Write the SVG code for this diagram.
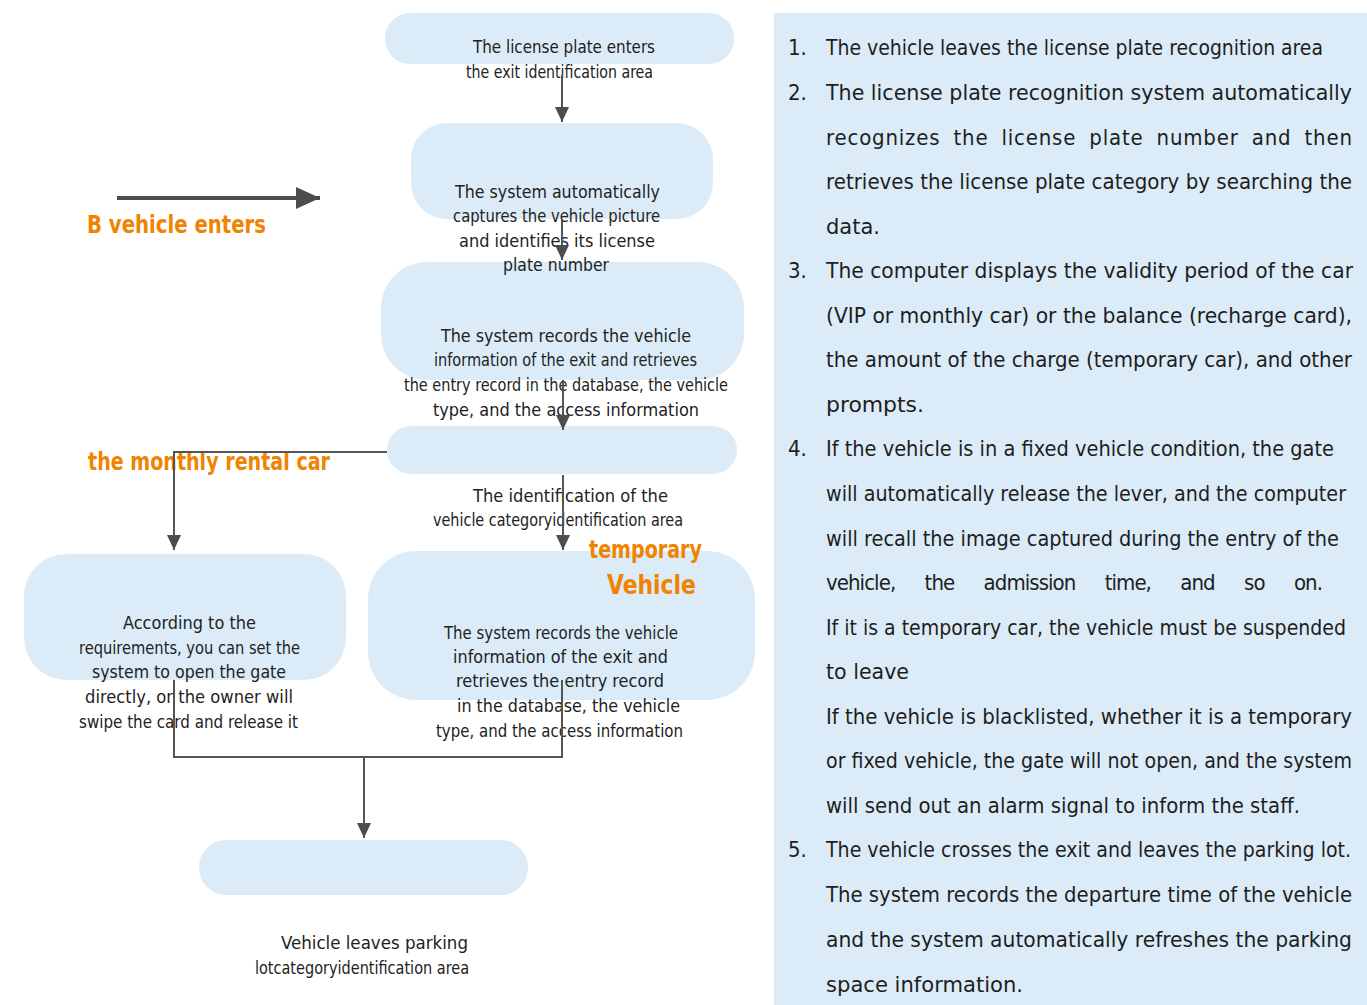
<svg xmlns="http://www.w3.org/2000/svg" width="1367" height="1005" viewBox="0 0 1367 1005">
<style>
.node{fill:#dbecf8}
.t{font-family:"DejaVu Sans Condensed","DejaVu Sans",sans-serif;font-size:18px;fill:#222}
.o{font-family:"DejaVu Sans Condensed","DejaVu Sans",sans-serif;font-size:24px;font-weight:bold;fill:#f08300}
.p{font-family:"DejaVu Sans Condensed","DejaVu Sans",sans-serif;font-size:22px;fill:#1e1e1e}
.ps{font-size:21px}
.c{fill:none;stroke:#555;stroke-width:2}
.big{fill:none;stroke:#4d4d4d;stroke-width:4}
</style>
<defs>
<marker id="ah" markerUnits="userSpaceOnUse" markerWidth="15" markerHeight="14" refX="15" refY="7" orient="auto"><path d="M0,0 L15,7 L0,14 z" fill="#4d4d4d"/></marker>
<marker id="ahb" markerUnits="userSpaceOnUse" markerWidth="24" markerHeight="22" refX="24" refY="11" orient="auto"><path d="M0,0 L24,11 L0,22 z" fill="#4d4d4d"/></marker>
</defs>
<rect width="1367" height="1005" fill="#fff"/>
<g id="panel">
<rect x="774" y="13" width="593" height="992" fill="#dbecf8"/>
<text class="p" x="788" y="55">1.</text>
<text class="p" x="826" y="55" textLength="497" lengthAdjust="spacingAndGlyphs">The vehicle leaves the license plate recognition area</text>
<text class="p" x="788" y="100">2.</text>
<text class="p" x="826" y="100" textLength="526" lengthAdjust="spacingAndGlyphs">The license plate recognition system automatically</text>
<text class="p" x="826" y="145" textLength="526" lengthAdjust="spacing" style="word-spacing:6px">recognizes the license plate number and then</text>
<text class="p" x="826" y="189" textLength="526" lengthAdjust="spacingAndGlyphs">retrieves the license plate category by searching the</text>
<text class="p" x="826" y="234" textLength="54" lengthAdjust="spacingAndGlyphs">data.</text>
<text class="p" x="788" y="278">3.</text>
<text class="p" x="826" y="278" textLength="527" lengthAdjust="spacingAndGlyphs">The computer displays the validity period of the car</text>
<text class="p" x="826" y="323" textLength="526" lengthAdjust="spacingAndGlyphs">(VIP or monthly car) or the balance (recharge card),</text>
<text class="p" x="826" y="367" textLength="526" lengthAdjust="spacingAndGlyphs">the amount of the charge (temporary car), and other</text>
<text class="p" x="826" y="412" textLength="98" lengthAdjust="spacingAndGlyphs">prompts.</text>
<text class="p" x="788" y="456">4.</text>
<text class="p" x="826" y="456" textLength="508" lengthAdjust="spacingAndGlyphs">If the vehicle is in a fixed vehicle condition, the gate</text>
<text class="p" x="826" y="501" textLength="520" lengthAdjust="spacingAndGlyphs">will automatically release the lever, and the computer</text>
<text class="p" x="826" y="546" textLength="513" lengthAdjust="spacingAndGlyphs">will recall the image captured during the entry of the</text>
<text class="p" x="826" y="590" textLength="497" lengthAdjust="spacing" style="word-spacing:24px">vehicle, the admission time, and so on.</text>
<text class="p" x="826" y="635" textLength="520" lengthAdjust="spacingAndGlyphs">If it is a temporary car, the vehicle must be suspended</text>
<text class="p" x="826" y="679" textLength="83" lengthAdjust="spacingAndGlyphs">to leave</text>
<text class="p" x="826" y="724" textLength="526" lengthAdjust="spacingAndGlyphs">If the vehicle is blacklisted, whether it is a temporary</text>
<text class="p ps" x="826" y="768" textLength="526" lengthAdjust="spacingAndGlyphs">or fixed vehicle, the gate will not open, and the system</text>
<text class="p" x="826" y="813" textLength="474" lengthAdjust="spacingAndGlyphs">will send out an alarm signal to inform the staff.</text>
<text class="p" x="788" y="857">5.</text>
<text class="p ps" x="826" y="857" textLength="525" lengthAdjust="spacingAndGlyphs">The vehicle crosses the exit and leaves the parking lot.</text>
<text class="p" x="826" y="902" textLength="526" lengthAdjust="spacingAndGlyphs">The system records the departure time of the vehicle</text>
<text class="p" x="826" y="947" textLength="526" lengthAdjust="spacingAndGlyphs">and the system automatically refreshes the parking</text>
<text class="p" x="826" y="992" textLength="197" lengthAdjust="spacingAndGlyphs">space information.</text>
</g>
<g id="n7">
<rect class="node" x="199" y="840" width="329" height="55" rx="27"/>
<text class="t" x="281" y="949" textLength="187" lengthAdjust="spacingAndGlyphs">Vehicle leaves parking</text>
<text class="t" x="255" y="974" textLength="214" lengthAdjust="spacingAndGlyphs">lotcategoryidentification area</text>
</g>
<g id="n6">
<rect class="node" x="368" y="551" width="387" height="149" rx="48"/>
<text class="t" x="444" y="639" textLength="234" lengthAdjust="spacingAndGlyphs">The system records the vehicle</text>
<text class="t" x="453" y="663" textLength="215" lengthAdjust="spacingAndGlyphs">information of the exit and</text>
<text class="t" x="456" y="687" textLength="208" lengthAdjust="spacingAndGlyphs">retrieves the entry record</text>
<text class="t" x="457" y="712" textLength="223" lengthAdjust="spacingAndGlyphs">in the database, the vehicle</text>
<text class="t" x="436" y="737" textLength="247" lengthAdjust="spacingAndGlyphs">type, and the access information</text>
</g>
<g id="n5">
<rect class="node" x="24" y="554" width="322" height="126" rx="42"/>
<text class="t" x="123" y="629" textLength="133" lengthAdjust="spacingAndGlyphs">According to the</text>
<text class="t" x="79" y="654" textLength="221" lengthAdjust="spacingAndGlyphs">requirements, you can set the</text>
<text class="t" x="92" y="678" textLength="194" lengthAdjust="spacingAndGlyphs">system to open the gate</text>
<text class="t" x="85" y="703" textLength="208" lengthAdjust="spacingAndGlyphs">directly, or the owner will</text>
<text class="t" x="79" y="728" textLength="219" lengthAdjust="spacingAndGlyphs">swipe the card and release it</text>
</g>
<g id="n4">
<rect class="node" x="387" y="426" width="350" height="48" rx="24"/>
<text class="t" x="473" y="502" textLength="195" lengthAdjust="spacingAndGlyphs">The identification of the</text>
<text class="t" x="433" y="526" textLength="250" lengthAdjust="spacingAndGlyphs">vehicle categoryidentification area</text>
</g>
<g id="n3">
<rect class="node" x="381" y="262" width="363" height="118" rx="46"/>
<text class="t" x="441" y="342" textLength="250" lengthAdjust="spacingAndGlyphs">The system records the vehicle</text>
<text class="t" x="434" y="366" textLength="263" lengthAdjust="spacingAndGlyphs">information of the exit and retrieves</text>
<text class="t" x="404" y="391" textLength="324" lengthAdjust="spacingAndGlyphs">the entry record in the database, the vehicle</text>
<text class="t" x="433" y="416" textLength="266" lengthAdjust="spacingAndGlyphs">type, and the access information</text>
</g>
<g id="n2">
<rect class="node" x="411" y="123" width="302" height="96" rx="36"/>
<text class="t" x="455" y="198" textLength="205" lengthAdjust="spacingAndGlyphs">The system automatically</text>
<text class="t" x="453" y="222" textLength="207" lengthAdjust="spacingAndGlyphs">captures the vehicle picture</text>
<text class="t" x="459" y="247" textLength="196" lengthAdjust="spacingAndGlyphs">and identifies its license</text>
<text class="t" x="503" y="271" textLength="106" lengthAdjust="spacingAndGlyphs">plate number</text>
</g>
<g id="n1">
<rect class="node" x="385" y="13" width="349" height="51" rx="25"/>
<text class="t" x="473" y="53" textLength="182" lengthAdjust="spacingAndGlyphs">The license plate enters</text>
<text class="t" x="466" y="78" textLength="187" lengthAdjust="spacingAndGlyphs">the exit identification area</text>
</g>
<g id="labels">
<text class="o" x="87" y="233" textLength="179" lengthAdjust="spacingAndGlyphs">B vehicle enters</text>
<text class="o" x="88" y="470" textLength="242" lengthAdjust="spacingAndGlyphs">the monthly rental car</text>
<text class="o" x="589" y="558" textLength="113" lengthAdjust="spacingAndGlyphs">temporary</text>
<text class="o" x="607" y="594" style="font-size:26px" textLength="89" lengthAdjust="spacingAndGlyphs">Vehicle</text>
</g>
<g id="connectors">
<path class="c" d="M562,75 V122" marker-end="url(#ah)"/>
<path class="c" d="M562,220 V260" marker-end="url(#ah)"/>
<path class="c" d="M563,380 V430" marker-end="url(#ah)"/>
<path class="c" d="M563,475 V550" marker-end="url(#ah)"/>
<path class="c" d="M387,452 H174 V550" marker-end="url(#ah)"/>
<path class="c" d="M174,680 V757 H562 V680"/>
<path class="c" d="M364,757 V838" marker-end="url(#ah)"/>
<path class="big" d="M117,198 H320" marker-end="url(#ahb)"/>
</g>
</svg>
